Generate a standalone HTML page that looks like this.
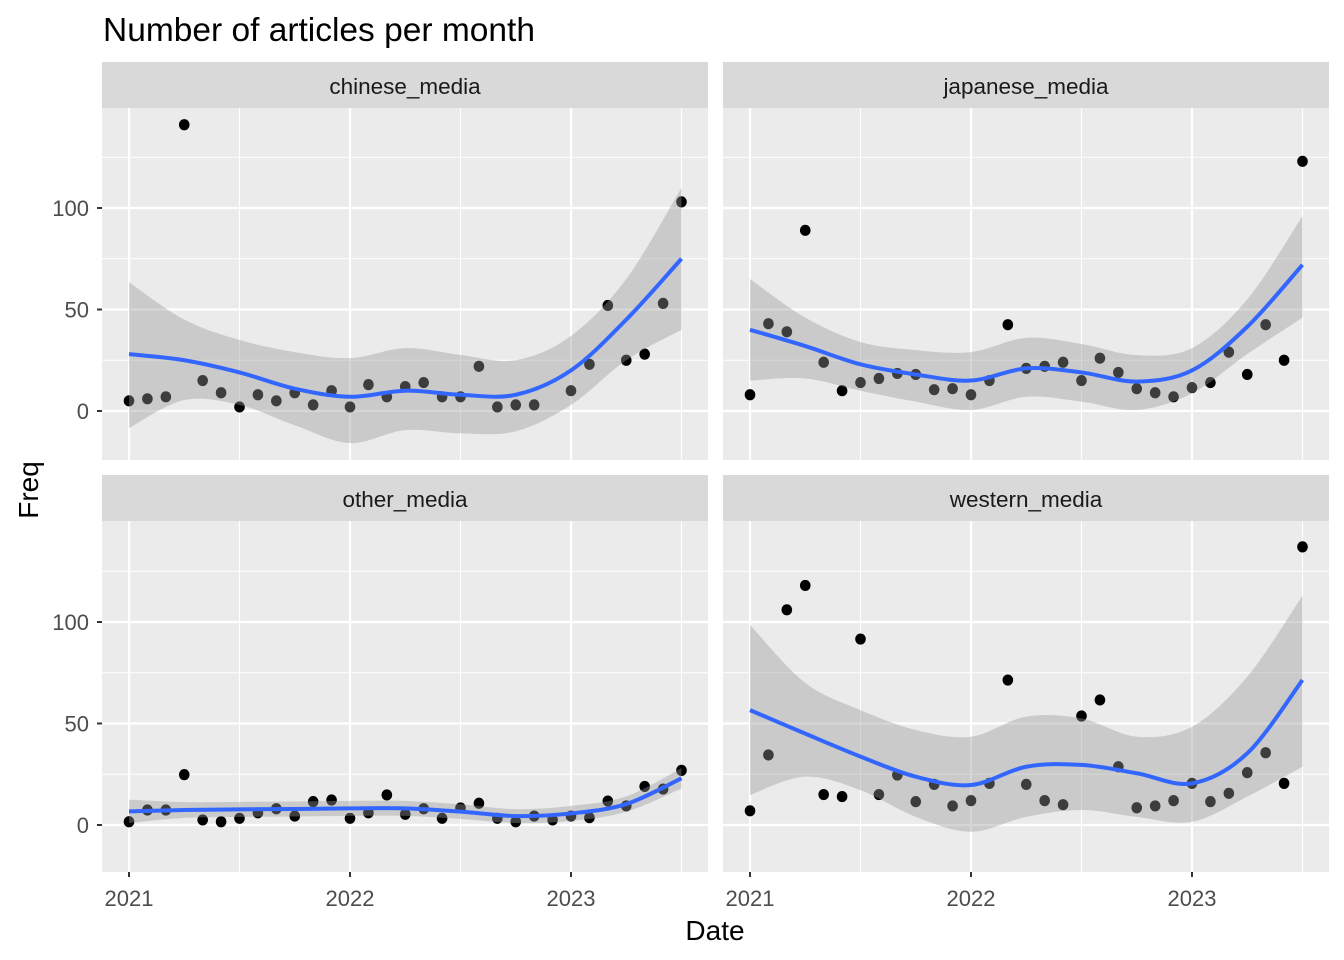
<!DOCTYPE html>
<html><head><meta charset="utf-8"><style>
html,body{margin:0;padding:0;background:#fff;}
svg{display:block;font-family:"Liberation Sans",Arial,sans-serif;}
</style></head><body>
<svg id="chart" width="1344" height="960"></svg>
<script>
const months = 31; // Jan 2021 .. Jul 2023
const panelNames = ["chinese_media","japanese_media","other_media","western_media"];
const chineseVals = [5,6,7,141,15,9,2,8,5,9,3,10,2,13,7,12,14,7,7,22,2,3,3,null,10,23,52,25,28,53,103];
const japaneseVals = [8,43,39,89,24,10,14,16,18.5,18,10.5,11,8,15,42.5,21,22,24,15,26,19,11,9,7,11.5,14,29,18,42.5,25,123];
const otherVals = [1.6,7.4,7.4,24.8,2.5,1.6,3.3,6,8,4.4,11.5,12.3,3.3,6,14.8,5.3,8,3.3,8.4,10.7,3.3,1.6,4.4,2.5,4.4,3.6,11.8,9.4,19,17.7,26.9];
const westernVals = [7,34.5,106,118,15,14,91.6,15,24.6,11.5,20,9.4,12,20.5,71.4,20,12,10,53.7,61.6,28.7,8.5,9.4,12,20.5,11.5,15.6,25.8,35.6,20.5,137];
const fitKnots = [2021,2021.25,2021.5,2021.75,2022,2022.25,2022.5,2022.75,2023,2023.25,2023.5];
const chineseFit = [28,25,19,11,7,10,8,8,20,45,75];
const chineseLo = [-8.4,5.4,3,-7,-15.8,-9.4,-11,-10,3,25,40];
const chineseHi = [63.5,45,35,29,26,31,27.6,25,37,65,110];
const japaneseFit = [40,32,23,18,15,21,19,14.5,20,41.5,72];
const japaneseLo = [15,16,10,4.6,0.5,7,4.6,0.5,8.7,28,46];
const japaneseHi = [65,46,34,30,29,36,33,27.5,31,55,96];
const otherFit = [6.7,7.4,7.7,7.9,8.2,8.2,6.6,4.4,5.7,10.3,23];
const otherLo = [1,3.5,4,4.2,4.5,4.5,3,1,2,6.5,18];
const otherHi = [12.5,11.3,11.4,11.6,11.9,11.9,10.2,7.8,9.4,14.1,28];
const westernFit = [56.6,45,33.7,23.8,19.7,28.7,29.6,25.5,20.5,35.3,71.4];
const westernLo = [14.8,23.8,17.2,4,-3.3,4,7.4,4,1.6,14,28.7];
const westernHi = [98.5,70,56.6,46.8,43.5,53.4,52.5,43.5,48.4,73,113];
const yTicks = [0,50,100];
const yMinor = [25,75,125];
const xTicks = [2021,2022,2023];
const xMinor = [2021.5,2022.5,2023.5];

const panelVals = [chineseVals,japaneseVals,otherVals,westernVals];
const panelFit = [chineseFit,japaneseFit,otherFit,westernFit];
const panelLo = [chineseLo,japaneseLo,otherLo,westernLo];
const panelHi = [chineseHi,japaneseHi,otherHi,westernHi];

const NS="http://www.w3.org/2000/svg";
const svg=document.getElementById('chart');
function mk(tag,attrs,parent){const e=document.createElementNS(NS,tag);for(const k in attrs)e.setAttribute(k,attrs[k]);(parent||svg).appendChild(e);return e;}
function segs(pts){let d="";for(let i=0;i<pts.length-1;i++){const p0=pts[Math.max(0,i-1)],p1=pts[i],p2=pts[i+1],p3=pts[Math.min(pts.length-1,i+2)];
d+=" C"+(p1[0]+(p2[0]-p0[0])/6)+","+(p1[1]+(p2[1]-p0[1])/6)+" "+(p2[0]-(p3[0]-p1[0])/6)+","+(p2[1]-(p3[1]-p1[1])/6)+" "+p2[0]+","+p2[1];}return d;}
function catmull(pts){return "M"+pts[0][0]+","+pts[0][1]+segs(pts);}

const title=mk('text',{x:103,y:41,'font-size':'33.5','fill':'#000'});
title.textContent="Number of articles per month";



const panels=[{x0:102,x1:708,y0:108,y1:460},{x0:723,x1:1329,y0:108,y1:460},{x0:102,x1:708,y0:521,y1:872},{x0:723,x1:1329,y0:521,y1:872}];
panels.forEach((P,pi)=>{
  const g=mk('g',{});
  
  
  const xS=t=>P.x0+27+(t-2021)*221;
  const zeroY=P.y1-49+(pi<2?0:2);
  const yS=v=>zeroY-v*2.03;
  const strip=mk('rect',{x:P.x0,y:P.y0-46,width:P.x1-P.x0,height:46,fill:'#D9D9D9'},g);
  
  
  const st=mk('text',{x:(P.x0+P.x1)/2,y:P.y0-14,'text-anchor':'middle','font-size':'22.5',fill:'#1A1A1A'},g);
  st.textContent=panelNames[pi];
  
  
  mk('rect',{x:P.x0,y:P.y0,width:P.x1-P.x0,height:P.y1-P.y0,fill:'#EBEBEB'},g);
  yMinor.forEach(v=>{const y=yS(v);if(y>P.y0)mk('line',{x1:P.x0,x2:P.x1,y1:y,y2:y,stroke:'#fff','stroke-width':1.1},g);});
  xMinor.forEach(t=>mk('line',{x1:xS(t),x2:xS(t),y1:P.y0,y2:P.y1,stroke:'#fff','stroke-width':1.1},g));
  yTicks.forEach(v=>mk('line',{x1:P.x0,x2:P.x1,y1:yS(v),y2:yS(v),stroke:'#fff','stroke-width':2.2},g));
  xTicks.forEach(t=>mk('line',{x1:xS(t),x2:xS(t),y1:P.y0,y2:P.y1,stroke:'#fff','stroke-width':2.2},g));
  if(pi%2===0){yTicks.forEach(v=>{
    mk('line',{x1:P.x0-5,x2:P.x0,y1:yS(v),y2:yS(v),stroke:'#333','stroke-width':2},g);
    const tl=mk('text',{x:P.x0-13,y:yS(v)+8,'text-anchor':'end','font-size':'22',fill:'#4D4D4D'},g);
    tl.textContent=v;
    
    });}
  if(pi>=2){xTicks.forEach(t=>{
    mk('line',{x1:xS(t),x2:xS(t),y1:P.y1,y2:P.y1+5,stroke:'#333','stroke-width':2},g);
    const tl=mk('text',{x:xS(t),y:P.y1+34,'text-anchor':'middle','font-size':'22',fill:'#4D4D4D'},g);
    tl.textContent=t;
    
    });}
  panelVals[pi].forEach((v,i)=>{if(v===null)return;
    const c=mk('ellipse',{cx:xS(2021+i/12),cy:yS(v),rx:5.3,ry:5.6,fill:'#000'},g);
    
    });
  const hi=fitKnots.map((t,i)=>[xS(t),yS(panelHi[pi][i])]);
  const lo=fitKnots.map((t,i)=>[xS(t),yS(panelLo[pi][i])]).reverse();
  const rib=mk('path',{d:catmull(hi)+" L"+lo[0][0]+","+lo[0][1]+segs(lo)+" Z",fill:'#999','fill-opacity':0.4},g);
  
  
  const fl=mk('path',{d:catmull(fitKnots.map((t,i)=>[xS(t),yS(panelFit[pi][i])])),fill:'none',stroke:'#3366FF','stroke-width':4},g);
  
  
});
const xt=mk('text',{x:715,y:940,'text-anchor':'middle','font-size':'28',fill:'#000'});
xt.textContent="Date";


const yt=mk('text',{x:0,y:0,'text-anchor':'middle','font-size':'28',fill:'#000',transform:'translate(38,490) rotate(-90)'});
yt.textContent="Freq";


</script>
</body></html>
